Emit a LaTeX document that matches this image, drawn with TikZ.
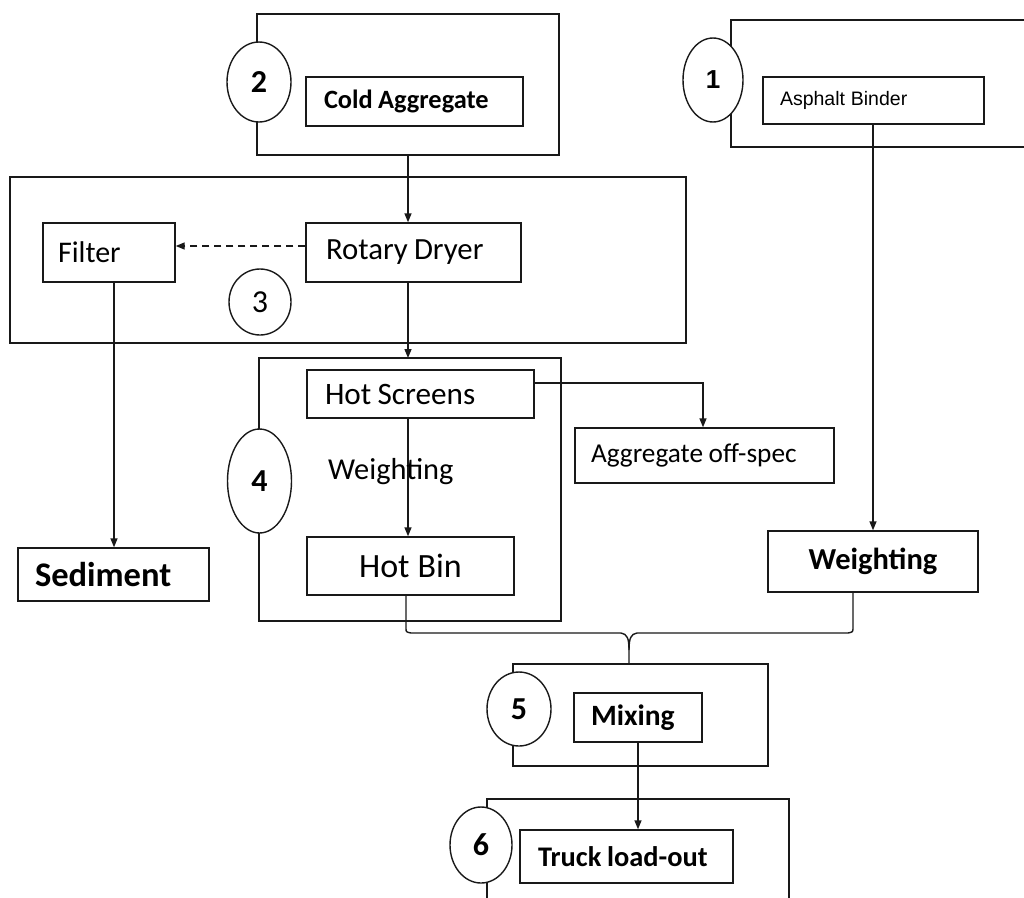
\documentclass[tikz,border=0pt]{standalone}
\usepackage{fontspec}
\setmainfont{Carlito}
\newfontfamily\arialf{Liberation Sans}
\usetikzlibrary{arrows.meta,shapes.geometric,calc}
\begin{document}
\begin{tikzpicture}[x=1pt,y=-1pt,
  ink/.style={draw=black!90, line width=1.4pt},
  frame/.style={ink, fill=none},
  box/.style={ink, fill=white, inner ysep=0pt, align=left, anchor=center,
    execute at begin node={\spaceskip=0.2em plus 0.05em\relax}},
  stage/.style={ink, ellipse, fill=white, inner sep=0pt, font=\bfseries\fontsize{32}{34}\selectfont},
  arr/.style={ink, -{Triangle[length=9pt,width=7pt]}},
  conn/.style={ink}
]
\useasboundingbox (0,0) rectangle (1024,897);

% outer frames
\draw[frame] (257,14) rectangle (559,155);
\coordinate (f2s) at (408,155);
\draw[frame] (731,20) rectangle (1032,147);
\draw[frame] (10,177) rectangle (686,343);
\draw[frame] (259,358) rectangle (561,621);
\coordinate (f4n) at (408,358);
\draw[frame] (513,664) rectangle (768,766);
\coordinate (f5n) at (629,664);
\draw[frame] (487,799) rectangle (789,905);

% stage markers
\node[stage, minimum width=64pt, minimum height=80pt] (e2) at (259,82) {2};
\node[stage, minimum width=60pt, minimum height=84pt, font=\arialf\bfseries\fontsize{26}{28}\selectfont] (e1) at (713,80) {1};
\node[stage, minimum width=62pt, minimum height=66pt, font=\fontsize{32}{34}\selectfont] (e3) at (260,302) {3};
\node[stage, minimum width=64pt, minimum height=104pt] (e4) at (259.5,481) {4};
\node[stage, minimum width=64pt, minimum height=74pt] (e5) at (519,709) {5};
\node[stage, minimum width=62pt, minimum height=76pt] (e6) at (481,845) {6};

% process boxes
\node[box, inner xsep=18pt, text width=181pt, minimum height=49pt, font=\bfseries\fontsize{26.4}{28}\selectfont] (cold) at (414.5,101.5) {Cold Aggregate};
\node[box, inner xsep=17pt, text width=187pt, minimum height=47pt, font=\arialf\fontsize{19.5}{22}\selectfont, execute at begin node={\spaceskip=0.3em\relax}] (asph) at (873.5,100.5) {Asphalt Binder};
\node[box, inner xsep=15pt, text width=102pt, minimum height=59pt, font=\fontsize{30}{32}\selectfont] (filter) at (109,252.5) {Filter};
\node[box, inner xsep=20pt, text width=175pt, minimum height=59pt, font=\fontsize{30.8}{32}\selectfont] (rotary) at (413.5,252.5) {Rotary Dryer};
\node[box, inner xsep=18pt, text width=191pt, minimum height=48pt, font=\fontsize{31.2}{33}\selectfont] (screens) at (420.5,394) {Hot Screens};
\node[box, align=center, inner xsep=0pt, text width=207pt, minimum height=58pt, font=\fontsize{34}{36}\selectfont] (hotbin) at (410.5,566) {Hot Bin};
\node[box, inner xsep=16pt, text width=227pt, minimum height=55pt, font=\fontsize{27.3}{29}\selectfont] (offspec) at (704.5,455.5) {Aggregate off-spec};
\node[box, align=center, inner xsep=0pt, text width=210pt, minimum height=61pt, font=\bfseries\fontsize{30.5}{32}\selectfont] (weigh) at (873,561.5) {Weighting};
\node[box, inner xsep=17pt, text width=157pt, minimum height=53pt, font=\bfseries\fontsize{34.5}{36}\selectfont] (sediment) at (113.5,574.5) {Sediment};
\node[box, inner xsep=17pt, text width=94pt, minimum height=49pt, font=\bfseries\fontsize{29.5}{32}\selectfont] (mixing) at (638,717.5) {Mixing};
\node[box, inner xsep=18pt, text width=177pt, minimum height=53pt, font=\bfseries\fontsize{28.4}{30}\selectfont] (truck) at (626.5,856.5) {Truck load-out};

% connectors
\draw[arr] (f2s) -- (f2s |- rotary.north);
\draw[arr] (rotary.south -| f2s) -- (f4n);
\draw[arr] (screens.south -| f2s) -- (hotbin.north -| f2s);
\node[anchor=west, inner sep=0pt, font=\fontsize{30.4}{32}\selectfont] (wlabel) at (328,472) {Weighting};
\coordinate (dy) at (0,246);
\draw[arr, dash pattern=on 7pt off 5pt] (rotary.west |- dy) -- (filter.east |- dy);
\coordinate (fx) at (114,0);
\draw[arr] (filter.south -| fx) -- (sediment.north -| fx);
\draw[arr] (asph.south -| weigh.north) -- (weigh.north);
\coordinate (sy) at (0,383);
\coordinate (ox) at (703,0);
\draw[arr] (screens.east |- sy) -- (ox |- sy) -- (offspec.north -| ox);
\coordinate (bx) at (406,0);
\coordinate (wx) at (853,0);
\draw[conn] (hotbin.south -| bx) -- (406,628) .. controls (406,632) .. (411,633) -- (621,633)
  .. controls (627,634) and (629,638) .. (629,650) -- (f5n);
\draw[conn] (629,650) .. controls (629,638) and (631,634) .. (637,633) -- (848,633)
  .. controls (853,632) .. (853,627) -- (weigh.south -| wx);
\draw[arr] (mixing.south) -- (mixing.south |- truck.north);
\end{tikzpicture}
\end{document}
